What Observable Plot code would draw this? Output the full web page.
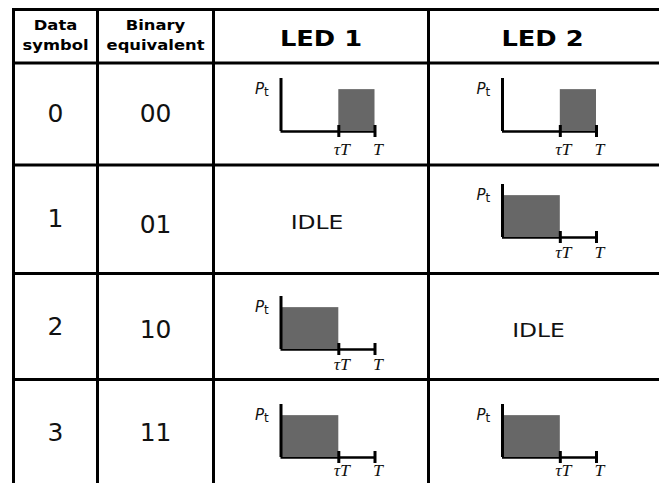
<!DOCTYPE html>
<html><head><meta charset="utf-8">
<script src="https://cdn.jsdelivr.net/npm/d3@7"></script>
<script src="https://cdn.jsdelivr.net/npm/@observablehq/plot@0.6"></script>
<style>html,body{margin:0;padding:0;background:#fff;}</style>
</head><body><div id="chart"></div>
<script>
// ---- data ----
const headers = ["Data\nsymbol", "Binary\nequivalent", "LED 1", "LED 2"];
const symbols = ["0", "1", "2", "3"];
const binary = ["00", "01", "10", "11"];
// pulse state per symbol: "late" = on during [τT, T], "early" = on during [0, τT], "idle" = off
const led1 = ["late", "idle", "early", "early"];
const led2 = ["late", "early", "idle", "early"];
const tau = 0.615;          // pulse split point as a fraction of T
const pulseLevel = 0.79;    // pulse power relative to the axis height
const idleLabel = "IDLE";
const tickLabels = ["τT", "T"];
const axisLabel = "P", axisSub = "t";

// ---- layout ----
const W = 659, H = 485;
const colEdges = [13, 97, 213, 428, 656];
const rowEdges = [9, 62.5, 164.5, 273, 379];
const gridBottom = 483;
const rowCenters = [113, 218.5, 326, 432];
const binaryNudge = [0, 6, 3, 0];
const miniOrigin = [131, 237, 349, 457];
const miniLabelDy = [18, 15.5, 15, 13.5];
const miniW = 94, miniH = 53;
const colCenter = i => (colEdges[i] + colEdges[i + 1]) / 2;

// build mini-chart records
const leds = [led1, led2];
const cells = [];
symbols.forEach((s, r) => {
  leds.forEach((led, c) => {
    const x0 = colCenter(c + 2) - 40, y0 = miniOrigin[r];
    cells.push({r, c, state: led[r], x0, y0,
      px: t => x0 + t * miniW, py: p => y0 - p * miniH});
  });
});
const active = cells.filter(d => d.state !== "idle");
const idle = cells.filter(d => d.state === "idle");
const pulses = active.map(d => d.state === "late"
  ? {x1: d.px(tau), x2: d.px(1), y1: d.py(0), y2: d.py(pulseLevel)}
  : {x1: d.px(0), x2: d.px(tau), y1: d.py(0), y2: d.py(pulseLevel)});
const ticks = active.flatMap(d => [tau, 1].map((t, k) => ({x: d.px(t), y: d.y0, label: tickLabels[k], r: d.r})));

const sans = "DejaVu Sans, Verdana, sans-serif";
const serif = "Liberation Serif, Times New Roman, serif";

const chart = Plot.plot({
  width: W, height: H,
  margin: 0,
  x: {domain: [0, W], range: [0, W], axis: null},
  y: {domain: [0, H], range: [0, H], axis: null},
  style: {background: "#fff"},
  marks: [
    // grid
    Plot.ruleY(rowEdges, {y: d => d, x1: (d, i) => i === 4 ? 15 : 12, x2: W, stroke: "#000", strokeWidth: 3}),
    Plot.ruleX(colEdges.slice(0, 4), {x: d => d, y1: rowEdges[0], y2: gridBottom, stroke: "#000", strokeWidth: 3}),
    // headers
    Plot.text(headers.slice(0, 2), {x: (d, i) => colCenter(i), y: 33, text: d => d, fontFamily: sans, fontWeight: "bold", fontSize: 14, lineHeight: 1.45, fill: "#000"}),
    Plot.text(headers.slice(2), {x: (d, i) => colCenter(i + 2), y: 38.5, text: d => d, fontFamily: sans, fontWeight: "bold", fontSize: 22, fill: "#000"}),
    // symbols and binary
    Plot.text(symbols, {x: colCenter(0), y: (d, i) => rowCenters[i] + 0.5, text: d => d, fontFamily: sans, fontSize: 24, fill: "#111"}),
    Plot.text(binary, {x: colCenter(1), y: (d, i) => rowCenters[i] + 0.5 + binaryNudge[i], text: d => d, fontFamily: sans, fontSize: 24, fill: "#111"}),
    // idle labels
    Plot.text(idle, {x: d => colCenter(d.c + 2) - 4, y: d => rowCenters[d.r] + 4, text: () => idleLabel, fontFamily: sans, fontSize: 20, fill: "#111"}),
    // mini charts
    Plot.ruleY(active, {y: d => d.y0, x1: d => d.x0, x2: d => d.px(1), stroke: "#000", strokeWidth: 2.5}),
    Plot.rect(pulses, {x1: "x1", x2: "x2", y1: "y1", y2: "y2", fill: "#676767"}),
    Plot.ruleX(active, {x: d => d.x0, y1: d => d.y0, y2: d => d.py(1), stroke: "#000", strokeWidth: 3}),
    Plot.ruleX(ticks, {x: "x", y1: d => d.y - 6, y2: d => d.y + 6, stroke: "#000", strokeWidth: 3}),
    Plot.text(ticks, {x: d => d.x + 3, y: d => d.y + miniLabelDy[d.r], text: "label", fontFamily: serif, fontStyle: "italic", fontSize: 17, fill: "#111"}),
    Plot.text(active, {x: d => d.x0 - 17, y: d => d.py(1) + 11, text: () => axisLabel, textAnchor: "end", fontFamily: sans, fontStyle: "italic", fontSize: 15, fill: "#111"}),
    Plot.text(active, {x: d => d.x0 - 17, y: d => d.py(1) + 14, text: () => axisSub, textAnchor: "start", fontFamily: sans, fontSize: 12, fill: "#111"})
  ]
});

// horizontal stretch of the lettering, as in the reference image
chart.querySelectorAll("text").forEach(el => {
  let g = el.parentNode, fam = "", size = "";
  while (g && g.getAttribute && g !== chart) {
    fam = fam || g.getAttribute("font-family") || "";
    size = size || g.getAttribute("font-size") || "";
    g = g.parentNode;
  }
  const s = fam.includes("Serif") ? 1.05 : (+size === 24 ? 1.04 : (+size < 16 && !(+size === 14) ? 1.0 : 1.17));
  const tr = el.getAttribute("transform");
  if (tr) el.setAttribute("transform", tr + ` scale(${s},1)`);
  else {
    const x = +el.getAttribute("x") || 0, y = +el.getAttribute("y") || 0;
    el.removeAttribute("x"); el.removeAttribute("y");
    el.setAttribute("transform", `translate(${x},${y}) scale(${s},1)`);
  }
});
document.getElementById("chart").append(chart);
</script>
</body></html>
